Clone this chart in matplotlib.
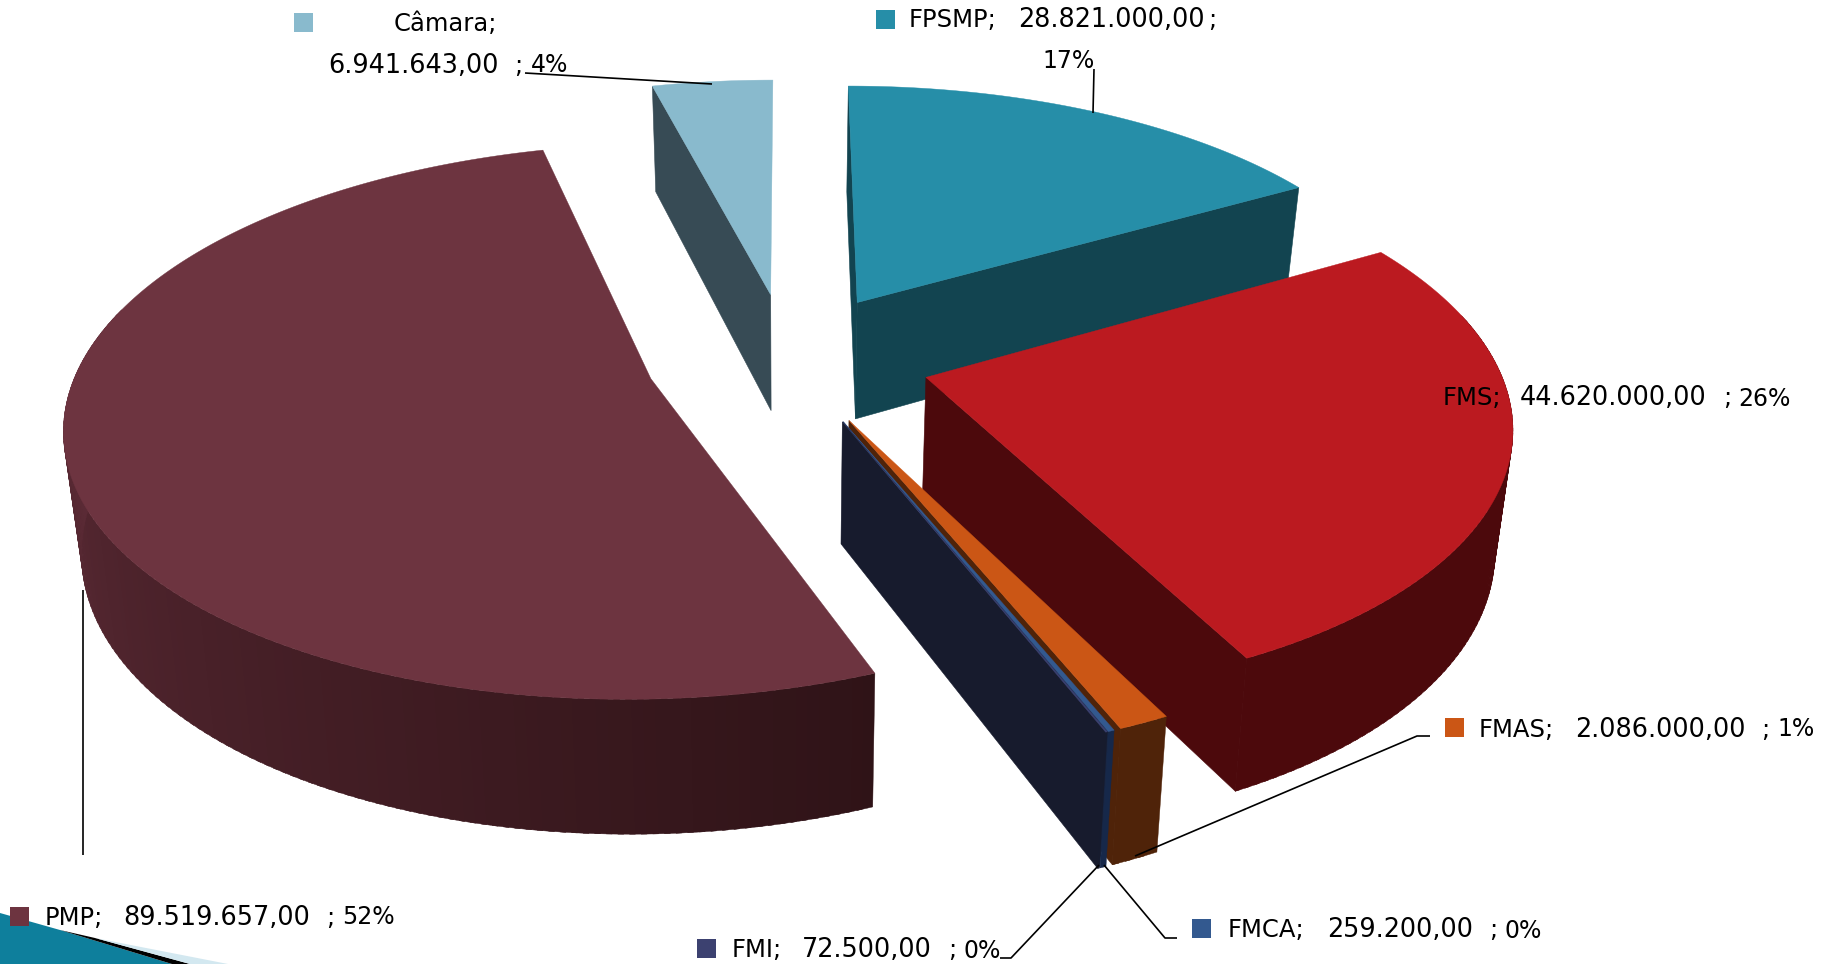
import numpy as np
import matplotlib
matplotlib.use("Agg")
import matplotlib.pyplot as plt
from matplotlib.colors import to_rgb
from matplotlib.patches import Polygon

# valores do grafico, sentido horario a partir do topo
names = ["FPSMP", "FMS", "FMAS", "FMCA", "FMI", "PMP", "Câmara"]
values = [28821000.00, 44620000.00, 2086000.00, 259200.00, 72500.00, 89519657.00, 6941643.00]
value_labels = ["28.821.000,00", "44.620.000,00", "2.086.000,00", "259.200,00", "72.500,00", "89.519.657,00", "6.941.643,00"]
pct_labels = ["17%", "26%", "1%", "0%", "0%", "52%", "4%"]

top_colors = ["#268ea8", "#bb1a20", "#cb5615", "#33598f", "#3c4170", "#6d3440", "#89bacd"]
side_colors = ["#124450", "#4c090c", "#4f2309", "#16284a", "#171b2d", "#5c2b36", "#374b55"]

W, H = 1829, 964
CX, CY, VY = 788.0, 358.0, -1385.0
A, C, WALL = 570.0, 0.152, 119.0
EXPLODE = 0.25


def project(x, y, bottom=False):
    # perspectiva simples do plano do grafico para pixels
    w = 1 + C * y
    sx = A * x / w
    sy = VY + (CY - VY) / w
    if bottom:
        sx = sx * 0.975
        sy = sy + WALL / w ** 0.7
    return CX + sx, sy


fig = plt.figure(figsize=(W / 100, H / 100), dpi=100)
ax = fig.add_axes([0, 0, 1, 1])
ax.set_xlim(0, W)
ax.set_ylim(H, 0)
ax.axis("off")

# triangulo do canto inferior esquerdo (fundo do slide)
ax.add_patch(Polygon([(0, 913), (60, 930), (172, 964), (0, 964)], fc="#0e7f9c", ec="none", zorder=1))
ax.add_patch(Polygon([(60, 930), (95, 938), (190, 964), (172, 964)], fc="black", ec="none", zorder=1))
ax.add_patch(Polygon([(95, 938), (228, 964), (190, 964)], fc="#d3e8f0", ec="none", zorder=1))

total = sum(values)
start = 0.0
wedges = []
for v in values:
    ang = 360.0 * v / total
    wedges.append((start, start + ang))
    start += ang


def draw_wedge(i, z):
    a0, a1 = wedges[i]
    mid = np.radians((a0 + a1) / 2)
    ox, oy = EXPLODE * np.sin(mid), EXPLODE * np.cos(mid)
    th = np.radians(np.linspace(a0, a1, max(3, int((a1 - a0) * 2))))
    xs = ox + np.sin(th)
    ys = oy + np.cos(th)
    top = [project(a, b) for a, b in zip(xs, ys)]
    bot = [project(a, b, True) for a, b in zip(xs, ys)]
    apex = project(ox, oy)
    apex_b = project(ox, oy, True)

    # faces do corte, so as que ficam de frente
    if np.sin(np.radians(a0)) <= 0:
        ax.add_patch(Polygon([apex, top[0], bot[0], apex_b], fc=side_colors[i], ec=side_colors[i], lw=0.4, zorder=z))
    if np.sin(np.radians(a1)) > 0.01:
        ax.add_patch(Polygon([apex, top[-1], bot[-1], apex_b], fc=side_colors[i], ec=side_colors[i], lw=0.4, zorder=z))

    # parede curva em faixas, so a parte da frente; PMP com degrade
    c0 = np.array(to_rgb("#2f1317"))
    c1 = np.array(to_rgb("#5c2b36"))
    for j in range(0, len(top) - 1, 2):
        if np.cos(th[j]) > 0.25:
            continue
        col = side_colors[i]
        if names[i] == "PMP":
            t = np.clip((np.degrees(th[j]) - 158) / 112, 0, 1)
            col = tuple(c0 + (c1 - c0) * t)
        k = min(j + 3, len(top) - 1)
        ax.add_patch(Polygon(top[j:k + 1] + bot[j:k + 1][::-1], fc=col, ec=col, lw=0.3, zorder=z))

    # tampa
    ax.add_patch(Polygon([apex] + top, fc=top_colors[i], ec=top_colors[i], lw=0.3, zorder=z + 0.5))


order = ["Câmara", "FPSMP", "FMS", "FMAS", "FMCA", "FMI", "PMP"]
for n, name in enumerate(order):
    draw_wedge(names.index(name), 2 + n)

TXT = dict(color="black", va="center", ha="left", family="DejaVu Sans", zorder=20)
NAME_FS, VALUE_FS, PCT_FS = 17.5, 18.4, 17.0
DY = 1.5


def swatch(i, sx, sy):
    ax.add_patch(Polygon([(sx, sy), (sx + 19, sy), (sx + 19, sy + 19), (sx, sy + 19)],
                         fc=top_colors[i], ec="none", zorder=20))


def value_pct(i, xv, y):
    # valor + " ; " + percentual, cada parte no seu tamanho
    t = ax.text(xv, y + DY, value_labels[i], fontsize=VALUE_FS, **TXT)
    fig.canvas.draw()
    end = t.get_window_extent().x1
    ax.text(end + 16, y + DY, ";", fontsize=NAME_FS, **TXT)
    ax.text(end + 32, y + DY, pct_labels[i], fontsize=PCT_FS, **TXT)


# Câmara e FPSMP ficam em duas linhas
swatch(6, 294, 13)
ax.text(394, 23 + DY, "Câmara;", fontsize=NAME_FS, **TXT)
value_pct(6, 328, 64)

swatch(0, 876, 10)
ax.text(909, 19 + DY, "FPSMP;", fontsize=NAME_FS, **TXT)
fp = ax.text(1018, 19 + DY, value_labels[0], fontsize=VALUE_FS, **TXT)
fig.canvas.draw()
ax.text(fp.get_window_extent().x1 + 3, 19 + DY, ";", fontsize=NAME_FS, **TXT)
ax.text(1042, 60 + DY, pct_labels[0], fontsize=PCT_FS, **TXT)

ax.text(1443, 397 + DY, "FMS;", fontsize=NAME_FS, **TXT)
value_pct(1, 1520, 397)

swatch(2, 1445, 718)
ax.text(1479, 728 + DY, "FMAS;", fontsize=NAME_FS, **TXT)
value_pct(2, 1575, 728)

swatch(3, 1192, 919)
ax.text(1228, 929 + DY, "FMCA;", fontsize=NAME_FS, **TXT)
value_pct(3, 1327, 929)

swatch(4, 697, 939)
ax.text(732, 949 + DY, "FMI;", fontsize=NAME_FS, **TXT)
value_pct(4, 802, 949)

swatch(5, 10, 907)
ax.text(45, 916 + DY, "PMP;", fontsize=NAME_FS, **TXT)
value_pct(5, 123, 916)

# linhas de chamada
leaders = [
    ([525, 712], [73, 84]),
    ([1094, 1093], [69, 113]),
    ([83, 83], [590, 855]),
    ([1430, 1417, 1135], [736, 736, 856]),
    ([1177, 1165, 1104], [938, 938, 865]),
    ([1000, 1011, 1099], [958, 958, 865]),
]
for lx, ly in leaders:
    ax.plot(lx, ly, color="black", lw=1.2, zorder=15, solid_capstyle="butt")

fig.savefig("out.png", dpi=100)
